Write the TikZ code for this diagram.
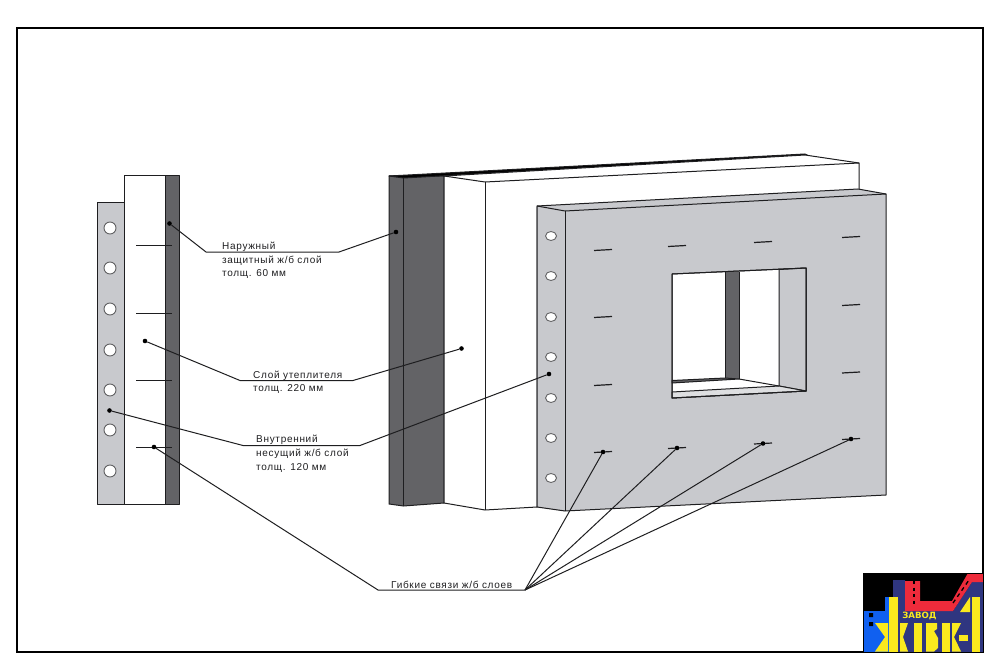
\documentclass[tikz,border=0pt]{standalone}
\usepackage{fontspec}
\setmainfont{Liberation Sans}[LetterSpace=7]
\newfontfamily\logofont{DejaVu Sans}
\definecolor{darklayer}{HTML}{636366}
\definecolor{greylayer}{HTML}{C8C9CD}
\definecolor{inkline}{HTML}{1E1E20}
\definecolor{logonavy}{HTML}{2F3680}
\definecolor{logoblue}{HTML}{1060F0}
\definecolor{logored}{HTML}{EE2B3B}
\definecolor{logoyellow}{HTML}{FAE91E}
\tikzset{
	edge/.style={draw=inkline, line width=1pt, line join=round},
	leader/.style={draw=inkline, line width=1pt},
	pin/.style={circle, fill=black, inner sep=0pt, minimum size=4.6pt},
	hole/.style={draw=inkline!70, fill=white, line width=0.9pt},
	tie/.style={draw=inkline, line width=1pt},
	lbl/.style={anchor=west, inner sep=0pt, font=\fontsize{10}{12}\selectfont, text=inkline},
}
\begin{document}
\begin{tikzpicture}[x=1pt, y=-1pt]
	\useasboundingbox (0,0) rectangle (1000,668);
	% frame
	\draw[black, line width=1.4pt] (17,28) rectangle (983,652);

	% Section, left
	\draw[edge, fill=greylayer] (97,203) rectangle (124,504);
	\draw[edge, fill=white] (124,176) rectangle (165,504);
	\draw[edge, fill=darklayer] (165,176) rectangle (179,504);
	\foreach \y in {228,268,309,350,390,430,471} {
		\draw[hole] (110,\y) circle (6);
	}
	\foreach \y in {245,313,380,447} {
		\draw[tie] (136,\y) -- (172,\y);
	}

	% Panel, dark layer
	\draw[edge, fill=darklayer] (389,176) -- (444,176) -- (444,503) -- (403.5,506) -- (389,504) -- cycle;
	\draw[edge] (403.5,178) -- (403.5,506);
	\draw[edge, fill=black] (389,176) -- (805,154) -- (808,155.5) -- (403.5,178) -- cycle;
	% Panel, insulation
	\draw[edge, fill=white] (444,176) -- (805,155) -- (859,163) -- (859,192) -- (537,207) -- (537,507) -- (485,510) -- (444,503) -- cycle;
	\draw[edge] (444,176) -- (485,182) -- (859,163);
	\draw[edge] (485,182) -- (485,510);
	% Panel, inner layer
	\draw[edge, fill=greylayer] (537,206) -- (858,189) -- (886,194) -- (886,495) -- (565,511) -- (537,507) -- cycle;
	\draw[edge] (537,206) -- (565,211) -- (886,194);
	\draw[edge] (565,211) -- (565,511);
	\foreach \y in {236,276,317,357,398,438,478} {
		\draw[hole] (551,\y) ellipse (5.5 and 4.5);
	}

	% Window
	\draw[edge, fill=white] (672,274) -- (806,268) -- (806,391) -- (672,398) -- cycle;
	\fill[darklayer] (725,272) rectangle (739,379);
	\draw[inkline, line width=0.5pt] (725,272) -- (725,379) (739,272) -- (739,379);
	\draw[edge, fill=greylayer] (779,269.5) -- (806,268) -- (806,391) -- (779,386) -- cycle;
	\draw[edge, fill=greylayer!60] (672,392) -- (779,386) -- (806,391) -- (672,398) -- cycle;
	\draw[edge, fill=darklayer] (672,380.5) -- (725,378) -- (739,379) -- (672,383) -- cycle;
	\draw[edge] (739,379) -- (779,386);
	\draw[edge] (672,274) -- (806,268) -- (806,391) -- (672,398) -- cycle;

	% Ties on the panel
	\foreach \x/\y in {603/250,603/317,603/385,603/452,677/246,677/448,763/242,763/443.5,851/237,851/305,851/372.5,851/439} {
		\draw[tie, line width=1.2pt] (\x-9,\y+0.5) -- (\x+9,\y-0.5);
	}

	% Pins
	\node[pin] (outerA) at (169.5,223.5) {};
	\node[pin] (outerB) at (396,232) {};
	\node[pin] (foamA) at (145,341) {};
	\node[pin] (foamB) at (461.5,348.5) {};
	\node[pin] (innerA) at (109.5,410.5) {};
	\node[pin] (innerB) at (549,374) {};
	\node[pin] (linkA) at (154,447) {};
	\node[pin] (link1) at (603,452) {};
	\node[pin] (link2) at (677,448) {};
	\node[pin] (link3) at (763,443.5) {};
	\node[pin] (link4) at (851,439) {};

	% Leader elbows
	\coordinate (outerL) at (206,252);
	\coordinate (outerR) at (339,252);
	\coordinate (foamL) at (240,380.5);
	\coordinate (foamR) at (353,380.5);
	\coordinate (innerL) at (243,445.5);
	\coordinate (innerR) at (360,445.5);
	\coordinate (linkL) at (378,590);
	\coordinate (linkR) at (525,590);

	\draw[leader] (outerA) -- (outerL) -- (outerR) -- (outerB);
	\draw[leader] (foamA) -- (foamL) -- (foamR) -- (foamB);
	\draw[leader] (innerA) -- (innerL) -- (innerR) -- (innerB);
	\draw[leader] (linkA) -- (linkL) -- (linkR);
	\foreach \h in {1,2,3,4} {
		\draw[leader] (linkR) -- (link\h);
	}

	% Labels
	\node[lbl] (outer1) at (222,247) {Наружный};
	\node[lbl] (outer2) at (222,261) {защитный ж/б слой};
	\node[lbl] (outer3) at (222,274) {толщ. 60 мм};
	\node[lbl] (foam1) at (253,375.5) {Слой утеплителя};
	\node[lbl] (foam2) at (253,389) {толщ. 220 мм};
	\node[lbl] (inner1) at (256,440) {Внутренний};
	\node[lbl] (inner2) at (256,454) {несущий ж/б слой};
	\node[lbl] (inner3) at (256,468) {толщ. 120 мм};
	\node[lbl] (link0) at (391,585) {Гибкие связи ж/б слоев};

	% Logo
	\fill[black] (863,573) rectangle (983,652);
	\fill[logonavy] (893,580) -- (905,580) -- (905,611) -- (953,611) -- (972,582) -- (983,582) -- (983,652) -- (893,652) -- cycle;
	\fill[logoblue] (863,611) -- (885,611) -- (885,597) -- (889,597) -- (889,652) -- (863,652) -- cycle;
	\fill[black] (869,613) rectangle (873,617) (869,622) rectangle (873,626);
	\fill[logored] (905,581) -- (920,581) -- (920,601) -- (952,601) -- (968,573) -- (983,573) -- (983,582) -- (972,582) -- (953,611) -- (905,611) -- cycle;
	\draw[black, line width=1.3pt, dash pattern=on 3pt off 3.5pt] (914,581) -- (914,606);
	\draw[black, line width=1.3pt, dash pattern=on 4pt off 3.5pt] (953,603) -- (969,580);
	\fill[logoyellow] (889,597) rectangle (898,652);
	\fill[logoyellow] (875,623) -- (888,623) -- (888,651.5) -- (875,651.5) -- (885,637) -- cycle;
	\fill[logoyellow] (900,623) -- (908,623) -- (903,637) -- (908,651.5) -- (900,651.5) -- cycle;
	\fill[logoyellow] (914,623) rectangle (922,651.5);
	\fill[logoyellow] (926,623) -- (937,623) -- (937,629) -- (934,631) -- (938,638) -- (938,648) -- (934,651.5) -- (926,651.5) -- cycle;
	\fill[logoyellow] (942,623) rectangle (950,651.5);
	\fill[logoyellow] (952,623) -- (961,623) -- (954,637) -- (961,651.5) -- (952,651.5) -- cycle;
	\fill[logoyellow] (959,635) rectangle (968,641);
	\fill[logoyellow] (972,597) rectangle (980,651.5);
	\fill[logoyellow] (960,612) -- (970,597) -- (970,612) -- cycle;
	\node[inner sep=0pt, text=logoyellow, font=\logofont\bfseries\fontsize{8.6}{10}\selectfont] (plant) at (919.5,616) {ЗАВОД};
	\draw[black, line width=1pt] (863,573) rectangle (983,652);
\end{tikzpicture}
\end{document}
